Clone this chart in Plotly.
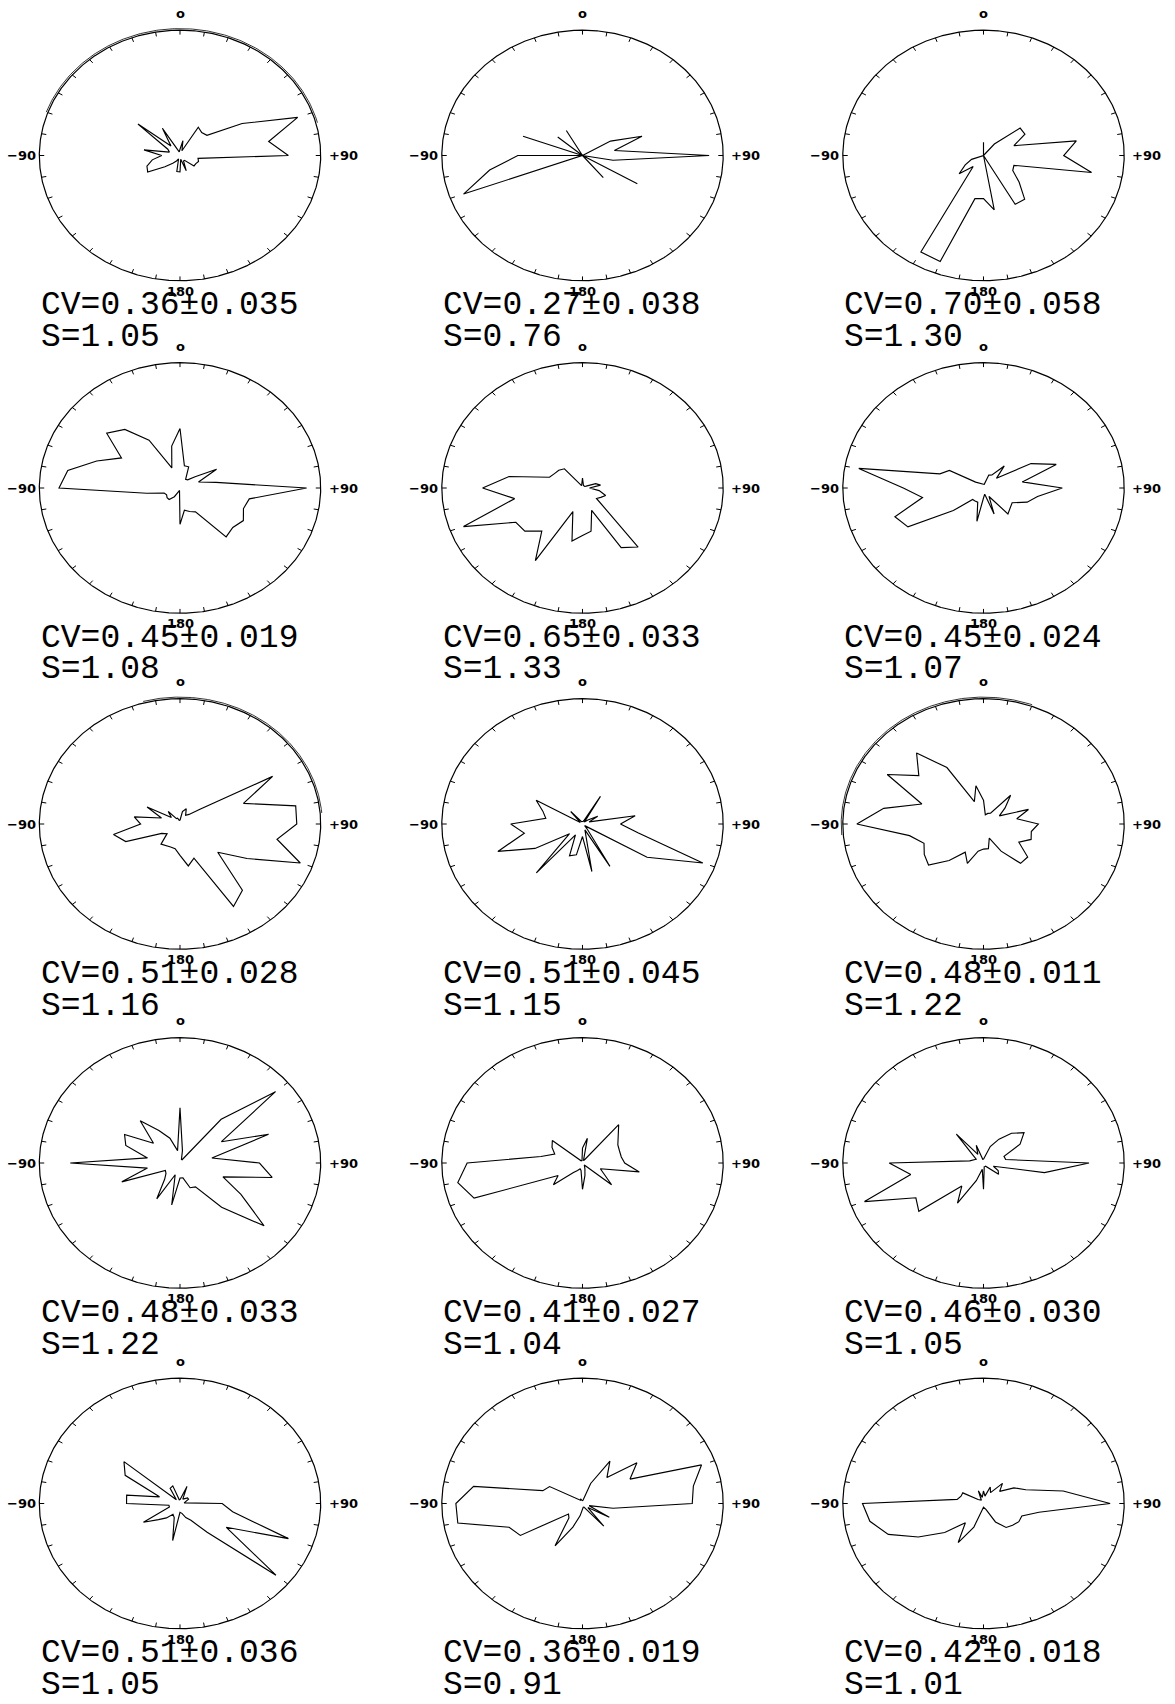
import numpy as np
import plotly.graph_objects as go

W, H = 1175, 1704

# angular bins (degrees, clockwise from the top "0" mark)
ANGLES_DEG = list(range(0, 360, 10))

# radial profiles, relative to the outer circle (= 1)
R_01 = [.05, .12, .04, .26, .24, .25, .51, .89, .64, .77, .13, .14, .13, .13, .05, .05, .13, .03,
        .13, .13, .03, .05, .08, .14, .265, .25, .20, .13, .26, .08, .10, .39, .10, .25, .05, .03]
R_02 = [0, 0, 0, 0, 0, 0, .23, .45, .23, .90, .22, 0, .45, 0, .23, 0, 0, 0,
        0, 0, 0, 0, 0, 0, 0, .90, .67, .46, 0, .45, 0, .23, 0, .23, 0, 0]
R_03 = [.106, 0, 0, 0, .12, .34, .34, .23, .67, .57, .78, .23, .24, .33, .455, .45, 0, .44,
        .344, .35, .90, .89, .114, .226, .15, .09, 0, 0, 0, 0, 0, 0, 0, 0, 0, 0]
R_04 = [.475, .18, .18, .08, .085, .14, .30, .14, .26, .90, .50, .48, .52, .49, .51, .22, .20, .18,
        .29, .02, .03, .08, .12, .12, .11, .12, .24, .86, .81, .63, .48, .68, .61, .44, .17, .34]
R_05 = [.08, .02, .02, .02, .02, .02, .03, .10, .13, .05, .12, .175, .15, .13, .615, .55, .19, .35,
        .38, .43, .20, .67, .45, .535, .547, .90, .49, .71, .53, .25, .23, .22, .20, .03, .02, .03]
R_06 = [.03, .03, .11, .12, .23, .12, .39, .55, .28, .56, .39, .33, .235, .25, .27, .078, .22, .05,
        .08, .27, .12, .12, .12, .28, .62, .67, .44, .57, .90, .33, .28, .073, .05, .045, .04, .03]
R_07 = [.03, .10, .13, .08, .10, .18, .76, .48, .835, .83, .70, .91, .55, .35, .69, .76, .29, .34,
        .25, .20, .195, .20, .21, .12, .15, .41, .48, .28, .33, .14, .27, .08, .13, .05, .05, .03]
R_08 = [.02, .02, .03, .255, .02, .05, .125, .05, .38, .27, .40, .91, .53, .02, .05, .39, .05, .385,
        .10, .25, .27, .10, .51, .12, .39, .64, .42, .51, .265, .30, .38, .02, .13, .02, .02, .02]
R_09 = [.19, .075, .09, .10, .30, .20, .13, .34, .24, .39, .345, .36, .29, .41, .41, .25, .12, .20,
        .20, .22, .335, .26, .38, .51, .486, .45, .534, .90, .72, .466, .79, .60, .74, .52, .19, .31]
R_10 = [.44, .10, .03, .03, .455, .886, .34, .67, .23, .565, .665, .325, .50, .78, .46, .22, .21, .12,
        .12, .34, .10, .33, .17, .13, .12, .44, .235, .78, .235, .41, .455, .246, .44, .30, .21, .10]
R_11 = [.12, .20, .02, .03, .40, .33, .29, .28, .28, .30, .41, .135, .18, .27, .02, .03, .05, .10,
        .21, .06, .05, .07, .10, .27, .20, .82, .90, .82, .30, .21, .25, .28, .02, .02, .02, .02]
R_12 = [.03, .05, .14, .22, .31, .376, .30, .155, .16, .75, .44, .075, .12, .14, .03, .03, .03, .03,
        .21, .05, .15, .37, .24, .60, .555, .90, .525, .67, .10, .07, .06, .10, .30, .08, .15, .03]
R_13 = [.03, .05, .145, .04, .05, .07, .07, .03, .03, .30, .38, .82, .38, .89, .30, .155, .12, .08,
        .07, .30, .12, .10, .15, .20, .30, .08, .08, .38, .385, .155, .45, .52, .04, .14, .15, .03]
R_14 = [.02, .03, .17, .39, .27, .505, .39, .90, .80, .78, .22, .05, .22, .05, .235, .03, .03, .03,
        .05, .10, .20, .39, .15, .13, .51, .555, .90, .90, .786, .30, .27, .05, .03, .03, .04, .02]
R_15 = [.10, .06, .14, .10, .21, .15, .25, .32, .575, .90, .40, .29, .29, .27, .25, .17, .05, .03,
        .03, .05, .20, .36, .20, .36, .535, .72, .82, .86, .19, .17, .17, .05, .03, .03, .107, .05]

RADII = [R_01, R_02, R_03, R_04, R_05, R_06, R_07, R_08, R_09, R_10, R_11, R_12, R_13, R_14, R_15]

CV_MEAN = ["0.36", "0.27", "0.70", "0.45", "0.65", "0.45", "0.51", "0.51", "0.48",
           "0.48", "0.41", "0.46", "0.51", "0.36", "0.42"]
CV_ERR = ["0.035", "0.038", "0.058", "0.019", "0.033", "0.024", "0.028", "0.045", "0.011",
          "0.033", "0.027", "0.030", "0.036", "0.019", "0.018"]
S_VALUES = ["1.05", "0.76", "1.30", "1.08", "1.33", "1.07", "1.16", "1.15", "1.22",
            "1.22", "1.04", "1.05", "1.05", "0.91", "1.01"]

DIR_LABELS = ["o", "+90", "180", "\u221290"]  # top, right, bottom, left

# layout geometry (pixels)
COL_CENTERS = [180.0, 582.5, 983.5]
ROW_CENTERS = [155.5, 488.0, 824.0, 1163.0, 1503.5]
SX, SY = 140.7, 125.3
PAD = 1.06
TICK_IN = 0.965
# faint doubled outline arc seen on a few panels: (start deg, end deg)
OUTLINE_ECHO = {0: (-70, 75), 6: (-15, 85), 8: (-95, 20)}
ECHO_PX = 1.6

fig = go.Figure()
tc = np.linspace(0, 2 * np.pi, 721)
tick_th = np.deg2rad(ANGLES_DEG)
tx, ty = [], []
for t in tick_th:
    tx += [np.sin(t), TICK_IN * np.sin(t), None]
    ty += [np.cos(t), TICK_IN * np.cos(t), None]


def px(x):
    return x / W


def py(y):
    return 1 - y / H


small = dict(family="DejaVu Sans", size=13, color="black", weight="bold")
big = dict(family="Liberation Mono, Courier New, monospace", size=33, color="black")

annotations = []
for i, r in enumerate(RADII):
    row, col = divmod(i, 3)
    n = i + 1
    sfx = "" if n == 1 else str(n)
    xa, ya = "x" + sfx, "y" + sfx
    cx, cy = COL_CENTERS[col], ROW_CENTERS[row]
    ax = dict(range=[-PAD, PAD], visible=False, fixedrange=True, showgrid=False, zeroline=False)
    fig.update_layout(**{
        "xaxis" + sfx: dict(domain=[px(cx - SX * PAD), px(cx + SX * PAD)], anchor=ya, **ax),
        "yaxis" + sfx: dict(domain=[py(cy + SY * PAD), py(cy - SY * PAD)], anchor=xa, **ax),
    })
    if i in OUTLINE_ECHO:
        a0, a1 = OUTLINE_ECHO[i]
        te = np.deg2rad(np.linspace(a0, a1, 200))
        fig.add_trace(go.Scatter(x=np.sin(te) * (1 + ECHO_PX / SX), y=np.cos(te) * (1 + ECHO_PX / SY),
                                 mode="lines", line=dict(color="black", width=0.8),
                                 xaxis=xa, yaxis=ya, hoverinfo="skip", showlegend=False))
    fig.add_trace(go.Scatter(x=np.sin(tc), y=np.cos(tc), mode="lines",
                             line=dict(color="black", width=1.2), xaxis=xa, yaxis=ya,
                             hoverinfo="skip", showlegend=False))
    fig.add_trace(go.Scatter(x=tx, y=ty, mode="lines", line=dict(color="black", width=1),
                             xaxis=xa, yaxis=ya, hoverinfo="skip", showlegend=False))
    th = np.deg2rad(ANGLES_DEG + [ANGLES_DEG[0]])
    rr = np.array(r + [r[0]])
    fig.add_trace(go.Scatter(x=rr * np.sin(th), y=rr * np.cos(th), mode="lines",
                             line=dict(color="black", width=1.15), xaxis=xa, yaxis=ya,
                             hoverinfo="skip", showlegend=False))

    annotations += [
        dict(x=px(cx), y=py(cy - 142), text=DIR_LABELS[0], font=small),
        dict(x=px(cx + 163), y=py(cy), text=DIR_LABELS[1], font=small),
        dict(x=px(cx), y=py(cy + 135.5), text=DIR_LABELS[2], font=small),
        dict(x=px(cx - 159), y=py(cy), text=DIR_LABELS[3], font=small),
        dict(x=px(cx - 141.5), y=py(cy + 150), text=f"CV={CV_MEAN[i]}\u00b1{CV_ERR[i]}", font=big,
             xanchor="left"),
        dict(x=px(cx - 141.5), y=py(cy + 182), text=f"S={S_VALUES[i]}", font=big, xanchor="left"),
    ]

for a in annotations:
    a.update(xref="paper", yref="paper", showarrow=False)
    a.setdefault("xanchor", "center")
    a.setdefault("yanchor", "middle")

fig.update_layout(width=W, height=H, margin=dict(l=0, r=0, t=0, b=0),
                  paper_bgcolor="white", plot_bgcolor="white",
                  showlegend=False, annotations=annotations)
fig.write_html("out.html", config={"displayModeBar": False, "staticPlot": True},
               post_script="document.body.style.margin='0px';document.body.style.overflow='hidden';")
